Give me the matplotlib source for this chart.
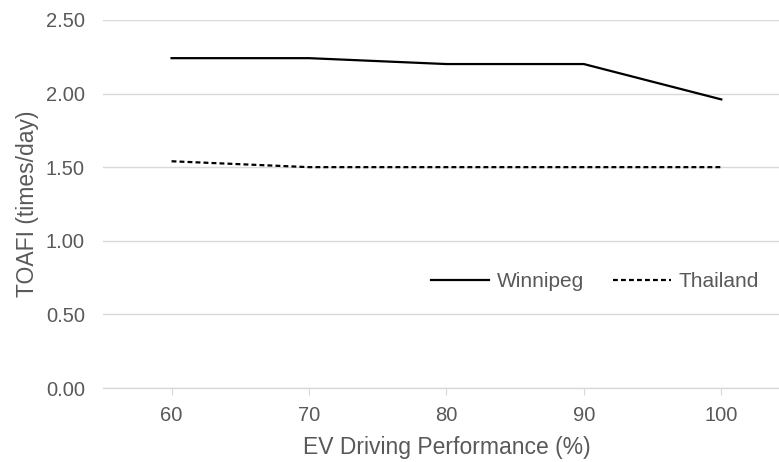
import matplotlib
matplotlib.use("Agg")
import matplotlib.pyplot as plt

# data
performance = [60, 70, 80, 90, 100]
winnipeg = [2.24, 2.24, 2.20, 2.20, 1.96]
thailand = [1.54, 1.50, 1.50, 1.50, 1.50]
yticks = [0.0, 0.5, 1.0, 1.5, 2.0, 2.5]

plt.rcParams['font.family'] = ['Liberation Sans', 'DejaVu Sans']
grey = '#595959'

fig = plt.figure(figsize=(7.79, 4.62), dpi=100)
ax = fig.add_axes([0.132, 0.160, 0.868, 0.797])

ax.plot(performance, winnipeg, color='black', lw=1.6, label='Winnipeg')
ax.plot(performance, thailand, color='black', lw=1.6, ls=(0, (2.2, 1.4)), label='Thailand')

ax.set_xlim(55, 104.2)
ax.set_ylim(0, 2.5)
ax.set_xticks(performance)
ax.set_yticks(yticks)
ax.set_yticklabels(['%.2f' % v for v in yticks])
ax.grid(axis='y', color='#d9d9d9', lw=1)
ax.set_axisbelow(True)
for s in ['top', 'right', 'left']:
    ax.spines[s].set_visible(False)
ax.spines['bottom'].set_color('#d9d9d9')
ax.spines['bottom'].set_linewidth(1)
ax.tick_params(axis='y', length=0, pad=13, labelsize=14.5, labelcolor=grey)
ax.tick_params(axis='x', length=5, color='#d9d9d9', pad=8, labelsize=14.5, labelcolor=grey)

ax.set_xlabel('EV Driving Performance (%)', fontsize=16.5, color=grey)
ax.xaxis.set_label_coords(0.508, -0.162)
ax.xaxis.label.set_va('center')
ax.set_ylabel('TOAFI (times/day)', fontsize=16.5, color=grey)
ax.yaxis.set_label_coords(-0.112, 0.5)
ax.yaxis.label.set_va('center')

ax.legend(loc='center right', bbox_to_anchor=(0.970, 0.29), ncol=2, frameon=False,
          fontsize=15, labelcolor=grey, handlelength=2.8, handletextpad=0.34,
          columnspacing=1.4, borderaxespad=0, borderpad=0)

fig.savefig('out.png', dpi=100)
